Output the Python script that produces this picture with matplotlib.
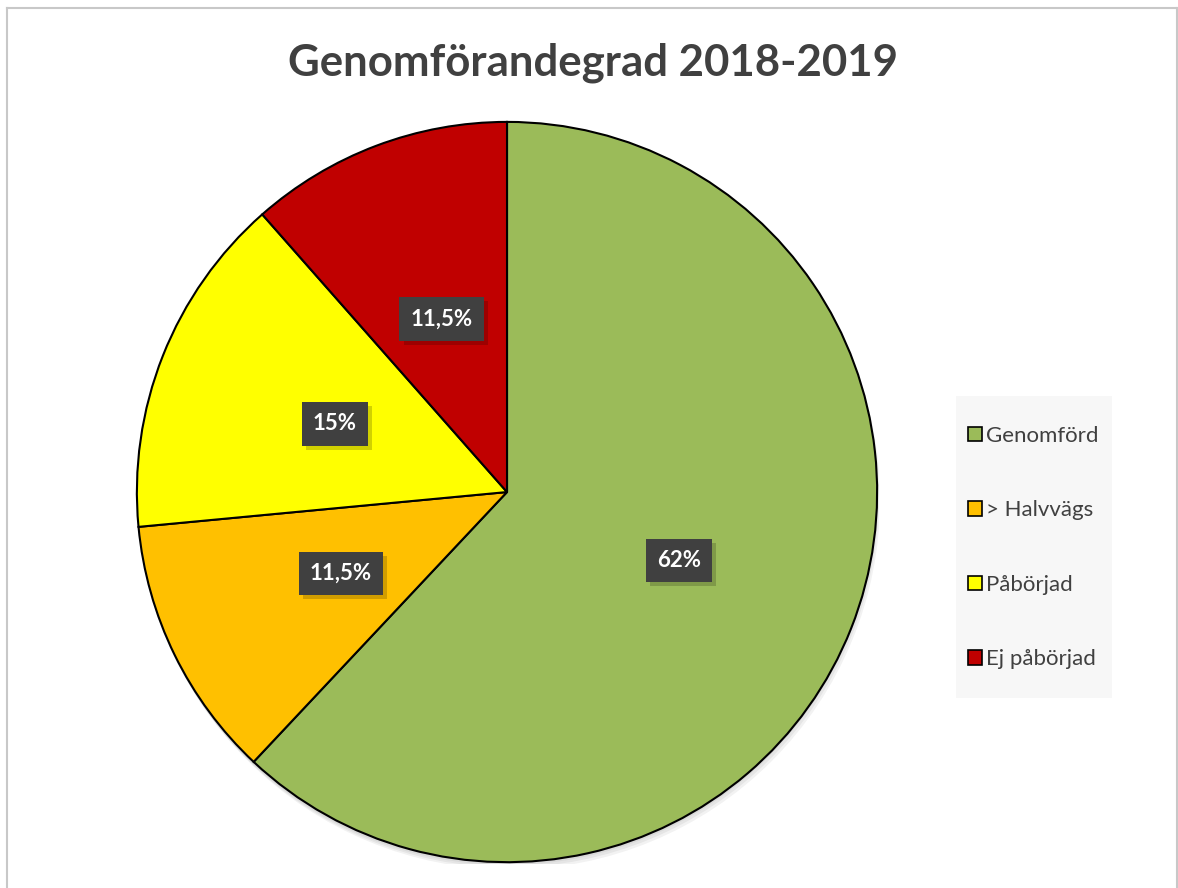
import matplotlib.pyplot as plt
import matplotlib.patches as mpatches
from matplotlib.lines import Line2D
import matplotlib.patheffects as pe

plt.rcParams['font.family'] = ['Lato', 'DejaVu Sans']

# -----------------------------
# Data
# -----------------------------
categories = ["Genomförd", "> Halvvägs", "Påbörjad", "Ej påbörjad"]
values = [62, 11.5, 15, 11.5]
colors = ["#9BBB59", "#FFC000", "#FFFF00", "#C00000"]
title = "Genomförandegrad 2018-2019"


def fmt_pct(pct):
    return f"{round(pct, 1):g}%".replace(".", ",")


fig = plt.figure(figsize=(11.78, 8.88), dpi=100)

# frame lines (left, top, right)
for xs, ys in [([0.006, 0.006], [0.0, 0.991]),
               ([0.006, 0.999], [0.991, 0.991]),
               ([0.999, 0.999], [0.0, 0.991])]:
    fig.add_artist(Line2D(xs, ys, transform=fig.transFigure,
                          color="#C8C8C8", lw=1.5))

fig.text(0.503, 0.929, title, ha="center", va="center",
         fontsize=31.5, fontweight="bold", color="#404040")

# -----------------------------
# Pie
# -----------------------------
ax = fig.add_axes([0.1146, 0.027, 0.6316, 0.8378])

# soft shadow under the pie
for i in range(3):
    ax.add_patch(mpatches.Circle((0.004 * i, -0.008 - 0.006 * i), 1.0,
                                 facecolor="black", alpha=0.05,
                                 edgecolor="none", zorder=0))

wedges, texts, autotexts = ax.pie(
    values, colors=colors, startangle=90, counterclock=False,
    autopct=fmt_pct, pctdistance=0.5,
    wedgeprops=dict(edgecolor="black", linewidth=1.5, zorder=1),
)

for t in autotexts:
    t.set_color("white")
    t.set_fontsize(16)
    t.set_fontweight("bold")
    t.set_bbox(dict(boxstyle="square,pad=0.5", facecolor="#404040",
                    edgecolor="none"))
    t.get_bbox_patch().set_path_effects([
        pe.SimplePatchShadow(offset=(3, -3), alpha=0.18,
                             shadow_rgbFace="black"),
        pe.Normal()])

ax.set_xlim(-1.005, 1.005)
ax.set_ylim(-1.005, 1.005)
ax.set_aspect("equal")
ax.axis("off")

# -----------------------------
# Legend
# -----------------------------
fig.add_artist(mpatches.Rectangle((956 / 1178, 1 - 698 / 888),
                                  156 / 1178, 302 / 888,
                                  transform=fig.transFigure,
                                  facecolor="#F7F7F7", edgecolor="none"))

handles = [mpatches.Patch(facecolor=c, edgecolor="black", linewidth=1.2)
           for c in colors]
leg = fig.legend(handles, categories, loc="center left",
                 bbox_to_anchor=(968 / 1178, 1 - 547.5 / 888), fontsize=16,
                 labelspacing=2.45, handlelength=0.62, handleheight=0.62,
                 handletextpad=0.2, borderpad=0, borderaxespad=0,
                 frameon=False)
for t in leg.get_texts():
    t.set_color("#404040")

fig.savefig("out.png", dpi=100)
